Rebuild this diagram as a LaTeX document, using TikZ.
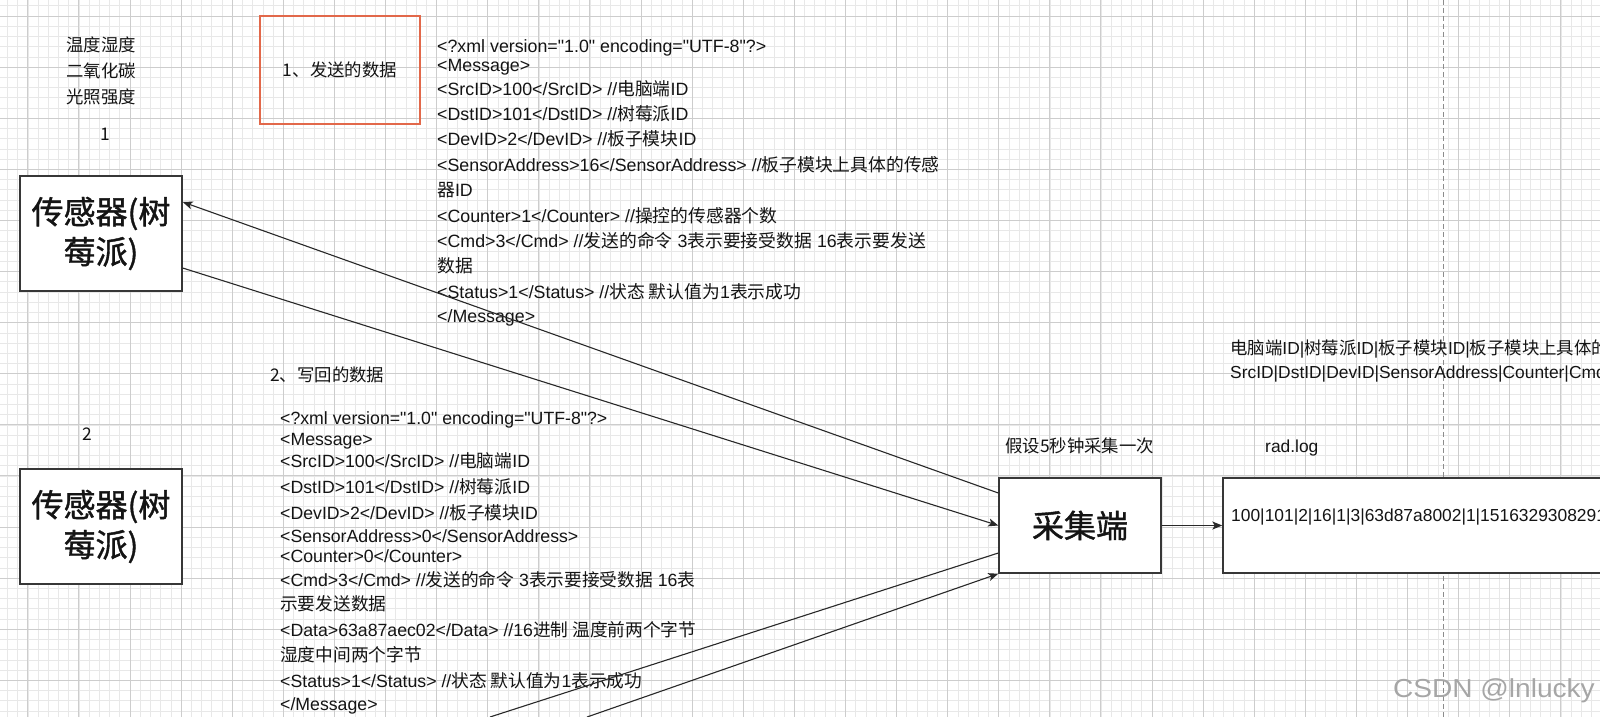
\documentclass[tikz,border=0pt]{standalone}
\usepackage{fontspec}
\setmainfont{Liberation Sans}[Ligatures=TeXOff]
\newfontfamily\cjk{Noto Sans CJK SC}
\newfontfamily\cjkmed{Noto Sans CJK SC}[FakeBold=1.2]
\usetikzlibrary{arrows.meta}
\newcommand{\zc}[1]{{\cjk #1}}
\definecolor{minorc}{RGB}{232,232,232}
\definecolor{majorc}{RGB}{205,205,205}
\definecolor{redc}{RGB}{226,104,74}
\definecolor{boxc}{RGB}{55,55,55}
\definecolor{linec}{RGB}{40,40,40}
\definecolor{txtc}{RGB}{20,20,20}
\begin{document}
\begin{tikzpicture}[x=1pt,y=-1pt,
  minorgrid/.style={draw=minorc, line width=0.6pt},
  majorgrid/.style={draw=majorc, line width=0.9pt},
  pagebreak/.style={draw=black!45, line width=0.9pt, dash pattern=on 5pt off 3pt},
  txt/.style={anchor=west, inner sep=0pt, yshift=-3pt, text=txtc, text height=0.8em, text depth=0.1em, font=\fontsize{17.4}{20}\selectfont},
  xmla/.style={txt, font=\fontsize{17.8}{20}\selectfont},
  xmlb/.style={txt, font=\fontsize{17.7}{20}\selectfont},
  ctxt/.style={inner sep=0pt, text=txtc, align=center, font=\cjk\fontsize{17.4}{26}\selectfont},
  sensorbox/.style={draw=boxc, fill=white, line width=1.4pt, minimum width=162pt, minimum height=115pt, inner sep=0pt, align=center, text=txtc, font=\cjkmed\fontsize{32}{40}\selectfont},
  redbox/.style={draw=redc, line width=1.3pt, minimum width=160pt, minimum height=108pt, inner sep=0pt, text=txtc, font=\cjk\fontsize{17.4}{20}\selectfont},
  bigbox/.style={draw=boxc, fill=white, line width=1.4pt, minimum width=162pt, minimum height=95pt, inner sep=0pt, text=txtc, font=\cjkmed\fontsize{32}{40}\selectfont},
  logbox/.style={draw=boxc, fill=white, line width=1.4pt, minimum width=420pt, minimum height=95pt, inner sep=0pt},
  conn/.style={draw=linec, line width=1.1pt},
  arr/.style={conn, -{Stealth[length=10pt,width=8pt,inset=2.5pt]}}
]
\useasboundingbox (0,0) rectangle (1600,717);
\clip (0,0) rectangle (1600,717);
\fill[white] (0,0) rectangle (1600,717);
% grid
\foreach \k in {-3,...,154} \draw[minorgrid] ({27.8+\k*10.22},0) -- ({27.8+\k*10.22},717);
\foreach \k in {-2,...,69} \draw[minorgrid] (0,{16+\k*10.22}) -- (1600,{16+\k*10.22});
\foreach \k in {-1,...,31} \draw[majorgrid] ({27.8+\k*51.1},0) -- ({27.8+\k*51.1},717);
\foreach \k in {-1,...,14} \draw[majorgrid] (0,{16+\k*51.1}) -- (1600,{16+\k*51.1});
\draw[pagebreak] (1443,0) -- (1443,717);

% left column
\node[ctxt] (vars) at (101,71) {温度湿度\\二氧化碳\\光照强度};
\node[ctxt] (n1) at (105,134) {1};
\node[sensorbox] (s1) at (101,233.5) {传感器(树\\莓派)};
\node[ctxt] (n2) at (87,434) {2};
\node[sensorbox] (s2) at (101,526.5) {传感器(树\\莓派)};

% sent data
\node[redbox] (send) at (340,70) {1、发送的数据};
\node[xmla] (a1) at (437,46) {<?xml version="1.0" encoding="UTF-8"?>};
\node[xmla] (a2) at (437,65) {<Message>};
\node[xmla] (a3) at (437,89) {<SrcID>100</SrcID> //\zc{电脑端}ID};
\node[xmla] (a4) at (437,114) {<DstID>101</DstID> //\zc{树莓派}ID};
\node[xmla] (a5) at (437,139) {<DevID>2</DevID> //\zc{板子模块}ID};
\node[xmla] (a6) at (437,165) {<SensorAddress>16</SensorAddress> //\zc{板子模块上具体的传感}};
\node[xmla] (a7) at (437,190) {\zc{器}ID};
\node[xmla] (a8) at (437,216) {<Counter>1</Counter> //\zc{操控的传感器个数}};
\node[xmla] (a9) at (437,241) {<Cmd>3</Cmd> //\zc{发送的命令} 3\zc{表示要接受数据} 16\zc{表示要发送}};
\node[xmla] (a10) at (437,266) {\zc{数据}};
\node[xmla] (a11) at (437,292) {<Status>1</Status> //\zc{状态 默认值为}1\zc{表示成功}};
\node[xmla] (a12) at (437,316) {</Message>};

% written back data
\node[txt] (back) at (270,375) {\zc{2、写回的数据}};
\node[xmlb] (b1) at (280,418) {<?xml version="1.0" encoding="UTF-8"?>};
\node[xmlb] (b2) at (280,439) {<Message>};
\node[xmlb] (b3) at (280,461) {<SrcID>100</SrcID> //\zc{电脑端}ID};
\node[xmlb] (b4) at (280,487) {<DstID>101</DstID> //\zc{树莓派}ID};
\node[xmlb] (b5) at (280,513) {<DevID>2</DevID> //\zc{板子模块}ID};
\node[xmlb] (b6) at (280,536) {<SensorAddress>0</SensorAddress>};
\node[xmlb] (b7) at (280,556) {<Counter>0</Counter>};
\node[xmlb] (b8) at (280,580) {<Cmd>3</Cmd> //\zc{发送的命令} 3\zc{表示要接受数据} 16\zc{表}};
\node[xmlb] (b9) at (280,604) {\zc{示要发送数据}};
\node[xmlb] (b10) at (280,630) {<Data>63a87aec02</Data> //16\zc{进制 温度前两个字节}};
\node[xmlb] (b11) at (280,655) {\zc{湿度中间两个字节}};
\node[xmlb] (b12) at (280,681) {<Status>1</Status> //\zc{状态 默认值为}1\zc{表示成功}};
\node[xmlb] (b13) at (280,704) {</Message>};

% right side
\node[txt] (fields1) at (1230,348) {\zc{电脑端}ID|\zc{树莓派}ID|\zc{板子模块}ID|\zc{板子模块上具体的}};
\node[txt] (fields2) at (1230,372) {SrcID|DstID|DevID|SensorAddress|Counter|Cmd};
\node[txt] (rate) at (1005,446) {\zc{假设5秒钟采集一次}};
\node[txt] (radlog) at (1265,446) {rad.log};
\node[bigbox] (col) at (1080,525.5) {采集端};
\node[logbox] (log) at (1433,525.5) {};
\node[txt] (logtxt) at (1231,515) {100|101|2|16|1|3|63d87a8002|1|1516329308291};

% connectors
\coordinate (c1) at (490,717);
\coordinate (c2) at (587,717);
\draw[arr] ([yshift=32.5pt]col.west) -- ([yshift=31.5pt]s1.east);
\draw[arr] ([yshift=-34.5pt]s1.east) -- (col.west);
\draw[conn] ([yshift=-27.5pt]col.west) -- (c1);
\draw[arr] (c2) -- (col.south west);
\draw[arr] (col.east) -- (col.east -| log.west);

% watermark
\node[anchor=base east, inner sep=0pt, text=black!35, font=\fontsize{26}{28}\selectfont, xscale=1.08] (wm) at (1595,697) {CSDN @lnlucky};
\end{tikzpicture}
\end{document}
